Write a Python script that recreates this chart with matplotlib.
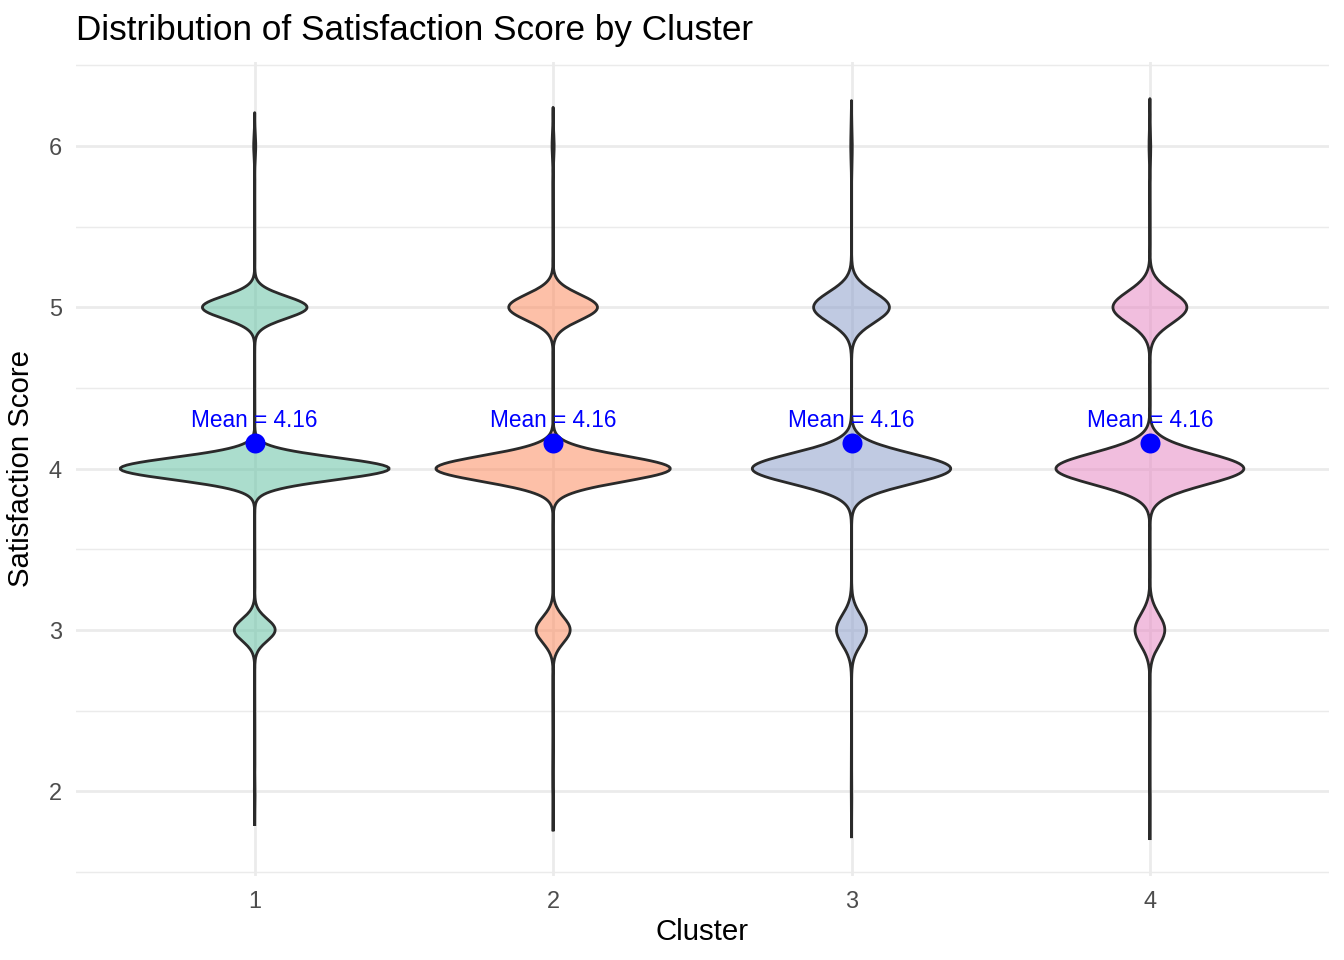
import numpy as np
import matplotlib
matplotlib.use("Agg")
import matplotlib.pyplot as plt

plt.rcParams['font.family'] = ['Liberation Sans', 'DejaVu Sans']

# counts of each satisfaction score per cluster
clusters = ["1", "2", "3", "4"]
scores = [2, 3, 4, 5, 6]
counts_c1 = [2, 118, 776, 302, 6]
counts_c2 = [2, 115, 790, 299, 7]
counts_c3 = [2, 118, 780, 298, 6]
counts_c4 = [2, 122, 770, 303, 7]
bandwidths = [0.069, 0.080, 0.094, 0.098]
fill_colors = ["#66C2A5", "#FC8D62", "#8DA0CB", "#E78AC3"]


def kde(scores, counts, bw, n=512, cut=3):
    vals = np.repeat(np.array(scores, dtype=float), counts)
    y = np.linspace(vals.min() - cut*bw, vals.max() + cut*bw, n)
    z = (y[:, None] - vals[None, :]) / bw
    dens = np.exp(-0.5*z**2).sum(axis=1) / (len(vals)*bw*np.sqrt(2*np.pi))
    return y, dens, vals.mean()


all_counts = [counts_c1, counts_c2, counts_c3, counts_c4]
res = [kde(scores, c, bw) for c, bw in zip(all_counts, bandwidths)]
gmax = max(r[1].max() for r in res)

fig = plt.figure(figsize=(7, 5), dpi=192)
ax = fig.add_axes([0.0563, 0.0879, 0.9888-0.0563, 0.9358-0.0879])

for i, (y, dens, m) in enumerate(res):
    x = i + 1
    w = dens / gmax * 0.45
    ax.fill_betweenx(y, x - w, x + w, facecolor=fill_colors[i], alpha=0.55,
                     edgecolor='none', zorder=2)
    px = np.concatenate([x - w, (x + w)[::-1], [x - w[0]]])
    py = np.concatenate([y, y[::-1], [y[0]]])
    ax.plot(px, py, color='#2a2a2a', lw=1.05, zorder=3, solid_joinstyle='round')
    ax.plot([x], [m], 'o', ms=7.5, color='blue', mec='none', zorder=4)
    ax.text(x, m + 0.10, f"Mean = {m:.2f}", ha='center', va='baseline',
            color='blue', fontsize=8.5, zorder=5)

ymin = min(r[0].min() for r in res)
ymax = max(r[0].max() for r in res)
pad = 0.05 * (ymax - ymin)
ax.set_ylim(ymin - pad, ymax + pad)
ax.set_xlim(0.4, 4.6)

ax.set_xticks([1, 2, 3, 4])
ax.set_xticklabels(clusters)
ax.set_yticks([2, 3, 4, 5, 6])
ax.set_yticks([1.5, 2.5, 3.5, 4.5, 5.5, 6.5], minor=True)
ax.grid(True, which='major', color='#EBEBEB', lw=1.05)
ax.grid(True, which='minor', axis='y', color='#EBEBEB', lw=0.53)
ax.set_axisbelow(True)
for s in ax.spines.values():
    s.set_visible(False)
ax.tick_params(which='both', length=0, labelsize=8.8, labelcolor='#4D4D4D')
ax.tick_params(axis='y', pad=5.2)
ax.tick_params(axis='x', pad=5.4)

ax.set_xlabel("Cluster", fontsize=11)
ax.set_ylabel("Satisfaction Score", fontsize=11)
ax.xaxis.set_label_coords(0.5, -0.0525)
ax.xaxis.label.set_va('top')
ax.yaxis.set_label_coords(-0.0325, 0.5)

fig.text(75.7/1344, 1 - 40/960, "Distribution of Satisfaction Score by Cluster",
         ha='left', va='baseline', fontsize=13.2)

fig.savefig("out.png", dpi=192)
